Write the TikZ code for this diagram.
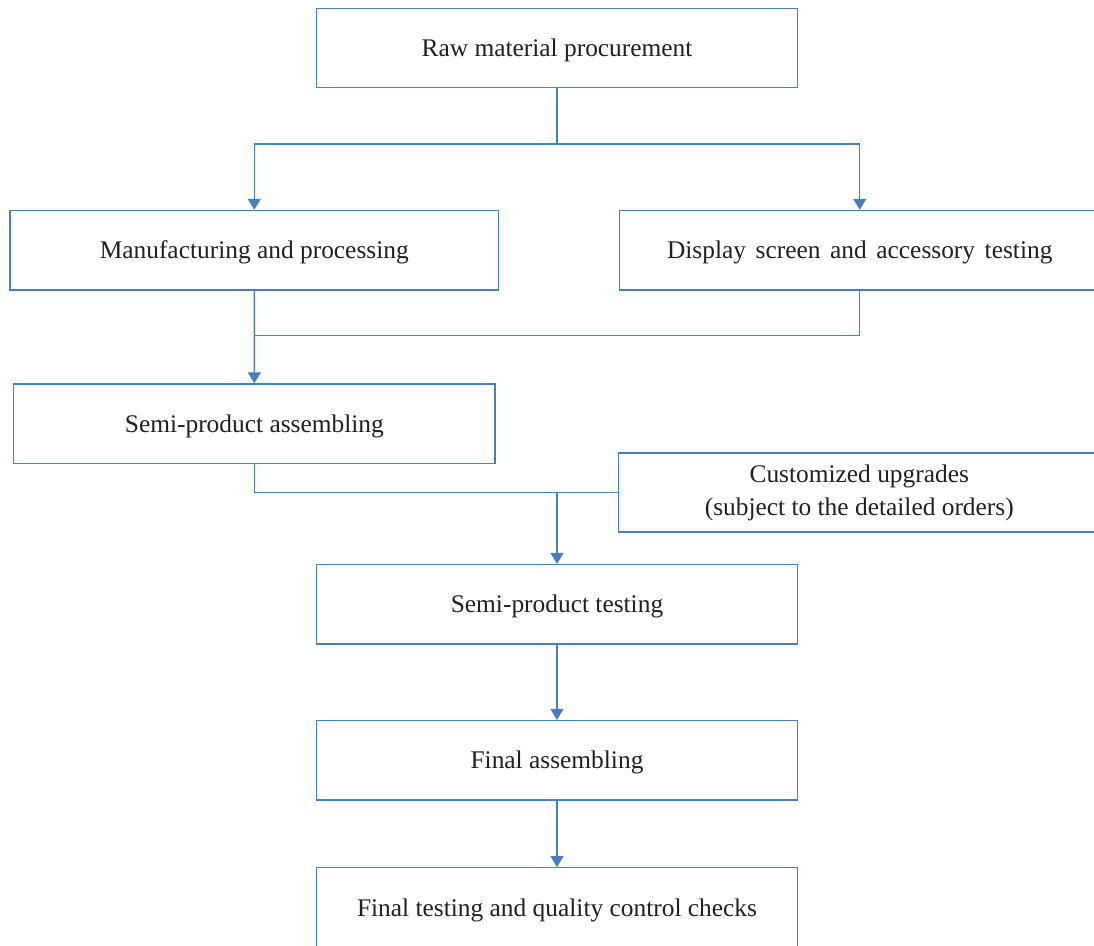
\documentclass[tikz,border=0pt]{standalone}
\usepackage{fontspec}
\setmainfont{Liberation Serif}
\usetikzlibrary{arrows.meta}
\definecolor{flowblue}{RGB}{74,126,187}
\definecolor{inkgray}{RGB}{35,31,32}
\begin{document}
\begin{tikzpicture}[x=1pt,y=-1pt,
  procbox/.style={draw=flowblue, line width=1.4pt, rectangle, inner sep=0pt,
    minimum height=79.5pt, text=inkgray, align=center,
    font=\fontsize{25.4}{33}\selectfont},
  oneline/.style={procbox, text height=22pt, text depth=5pt},
  link/.style={draw=flowblue, line width=1.4pt},
  arrowlink/.style={link, -{Triangle[width=13pt,length=11pt]}}]
\useasboundingbox (0,0) rectangle (1094,945);
\clip (0,0) rectangle (1094,945);
\fill[white] (0,0) rectangle (1094,945);

\node[oneline, minimum width=481pt] (raw) at (557,48) {Raw material procurement};
\node[oneline, minimum width=488.5pt] (manu) at (254.25,250.25) {Manufacturing and processing};
\node[oneline, minimum width=480.5pt] (disp) at (859.75,250.25) {\spaceskip=9.6pt plus 1pt minus 1pt Display screen and accessory testing};
\node[oneline, minimum width=481.3pt] (semiA) at (254.35,423.75) {Semi-product assembling};
\node[procbox, minimum width=481.5pt, minimum height=79pt] (cust) at (859.25,492.5) {Customized upgrades\\(subject to the detailed orders)};
\node[oneline, minimum width=481pt] (semiT) at (557,604.35) {Semi-product testing};
\node[oneline, minimum width=481pt] (finA) at (557,760.35) {Final assembling};
\node[oneline, minimum width=481pt] (finT) at (557,907.5) {Final testing and quality control checks};

\coordinate (j1) at (557,144);
\coordinate (j2) at (254.3,335.7);

\draw[link] (raw.south) -- (j1);
\draw[arrowlink] (j1) -| (manu.north);
\draw[arrowlink] (j1) -| (disp.north);
\draw[arrowlink] (manu.south) -- (semiA.north);
\draw[link] (disp.south) |- (j2);
\draw[link] (semiA.south) |- (cust.west);
\draw[arrowlink] (cust.west -| semiT.north) -- (semiT.north);
\draw[arrowlink] (semiT.south) -- (finA.north);
\draw[arrowlink] (finA.south) -- (finT.north);
\end{tikzpicture}
\end{document}
